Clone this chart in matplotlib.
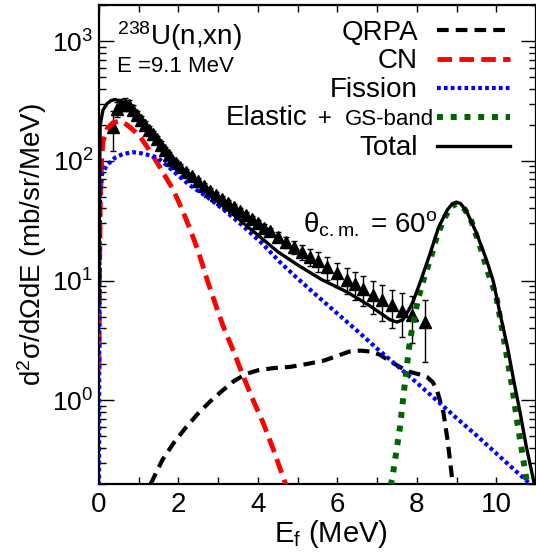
import numpy as np
import matplotlib
matplotlib.use("Agg")
import matplotlib.pyplot as plt

plt.rcParams['font.family'] = ['Liberation Sans', 'DejaVu Sans']
plt.rcParams['mathtext.fontset'] = 'custom'
plt.rcParams['mathtext.rm'] = 'Liberation Sans'
plt.rcParams['mathtext.it'] = 'Liberation Sans:italic'
plt.rcParams['mathtext.default'] = 'regular'

# ---- data (E in MeV, cross section in mb/sr/MeV) ----
total_x = [0.0, 0.01, 0.03, 0.1, 0.2, 0.3, 0.4, 0.55, 0.7, 0.85, 1.0, 1.25, 1.5, 1.86, 2.2, 2.5,
           2.8, 3.12, 3.5, 3.75, 4.1, 4.5, 5.0, 5.6, 6.25, 6.8, 7.1, 7.33, 7.5, 7.65, 7.8, 7.9,
           8.1, 8.34, 8.55, 8.77, 8.9, 9.0, 9.1, 9.25, 9.5, 9.75, 9.92, 10.1, 10.28, 10.45,
           10.6, 10.75, 10.93, 11.0]
total_y = [6.6, 50, 200, 265, 300, 318, 325, 315, 290, 255, 222, 175, 137, 97, 77, 63,
           52, 42, 33, 28, 22.5, 17.4, 13.5, 10.2, 8.0, 6.2, 5.3, 4.7, 4.5, 4.7, 5.7, 6.6,
           10, 17, 28, 39, 44, 45, 44, 38, 25, 15, 10, 5.2, 2.8, 1.4,
           0.79, 0.42, 0.22, 0.17]

cn_x = [0.0, 0.01, 0.03, 0.07, 0.1, 0.2, 0.35, 0.53, 0.7, 0.85, 1.03, 1.25, 1.46, 1.66, 1.86,
        2.08, 2.29, 2.5, 2.72, 2.92, 3.12, 3.38, 3.63, 3.88, 4.13, 4.4, 4.68, 4.85]
cn_y = [1.8, 8, 40, 110, 145, 185, 208, 215, 200, 182, 160, 125, 97, 75, 58,
        40, 27, 17.5, 10.2, 6.5, 4.2, 2.6, 1.59, 1.0, 0.65, 0.38, 0.206, 0.15]

fis_x = [0.0, 0.005, 0.015, 0.03, 0.08, 0.2, 0.4, 0.6, 0.86, 1.1, 1.46, 1.7, 1.96, 2.3, 2.72,
         3.1, 3.55, 4.1, 4.56, 5.0, 5.5, 6.0, 6.5, 7.0, 7.5, 8.0, 8.5, 9.0, 9.5, 10.0, 10.5, 11.0]
fis_y = [0.15, 2, 20, 55, 78, 92, 106, 114, 118, 115, 107, 92, 77, 62, 50,
         40, 30, 20.5, 14.2, 10.4, 7.4, 5.3, 3.8, 2.7, 1.95, 1.4, 1.0, 0.71, 0.51, 0.36, 0.255, 0.18]

qrpa_x = [1.3, 1.6, 1.9, 2.2, 2.5, 2.8, 3.1, 3.4, 3.7, 4.0, 4.4, 4.8, 5.2, 5.65, 6.0, 6.3,
          6.58, 6.85, 7.07, 7.4, 7.76, 8.05, 8.26, 8.4, 8.5, 8.6, 8.67, 8.78, 8.89, 8.95]
qrpa_y = [0.2, 0.32, 0.45, 0.6, 0.78, 0.98, 1.2, 1.45, 1.66, 1.78, 1.86, 1.9, 2.0, 2.14, 2.35, 2.55,
          2.6, 2.55, 2.4, 2.05, 1.75, 1.65, 1.56, 1.42, 1.24, 0.95, 0.79, 0.45, 0.22, 0.15]

el_x = [7.25, 7.38, 7.58, 7.71, 7.83, 8.03, 8.2, 8.34, 8.5, 8.67, 8.85, 9.0, 9.15, 9.35, 9.6,
        9.8, 10.0, 10.25, 10.4, 10.53, 10.65, 10.73, 10.8]
el_y = [0.15, 0.22, 0.61, 1.5, 3.2, 7.0, 11, 15, 23, 32, 41, 44, 42, 33, 19,
        11.5, 7.4, 2.5, 1.3, 0.65, 0.37, 0.25, 0.18]

exp_x = [0.35, 0.45, 0.55, 0.65, 0.75, 0.85, 0.95, 1.05, 1.15, 1.25, 1.35, 1.45, 1.55, 1.65,
         1.75, 1.85, 1.95, 2.05, 2.2, 2.35, 2.5, 2.65, 2.8, 2.95, 3.1, 3.25, 3.4, 3.55, 3.7,
         3.85, 4.0, 4.15, 4.3, 4.5, 4.7, 4.9, 5.1, 5.3, 5.5, 5.75, 6.0, 6.25, 6.45, 6.65, 6.9,
         7.13, 7.38, 7.63, 7.88, 8.2]
exp_y = [190, 270, 295, 300, 290, 265, 240, 220, 200, 182, 166, 151, 136, 123,
         112, 102, 95, 89, 81, 74, 68, 62, 56, 52, 48, 44.5, 41, 38, 35.5,
         32.5, 30, 27.5, 25.7, 23, 21, 19, 17.4, 15.8, 14.5, 12.9, 11.5, 10.2, 9.3, 8.5, 7.6,
         6.9, 6.2, 5.6, 5.2, 4.5]
exp_err = [70, 40, 35, 35, 30, 25, 20, 17, 15, 13, 12, 10, 9, 8,
           7, 6, 6, 5, 5, 4, 4, 3.5, 3, 3, 2.8, 2.6, 2.4, 2.3, 2.2,
           2.1, 2.0, 2.0, 2.0, 2.2, 2.3, 2.4, 2.5, 2.6, 2.7, 2.7, 2.6, 2.5, 2.4, 2.4, 2.3,
           2.3, 2.2, 2.2, 2.2, 2.4]

fig = plt.figure(figsize=(5.36, 5.54), dpi=100)
ax = fig.add_axes([99/536, 70/554, 437/536, 479/554])

qrpa_style = dict(color='black', lw=3, ls=(0, (2.8, 1.7)))
cn_style = dict(color='red', lw=3.5, ls=(0, (3, 1.5)))
fis_style = dict(color='blue', lw=3, ls=(0, (0.9, 0.75)))
el_style = dict(color='#006400', lw=4.3, ls=(0, (1.0, 1.3)))
tot_style = dict(color='black', lw=2.4)

ax.errorbar(exp_x, exp_y, yerr=exp_err, fmt='^', color='black', ms=8, elinewidth=1.0,
            capsize=2.5, capthick=1.0, zorder=3)
ax.plot(qrpa_x, qrpa_y, zorder=4, **qrpa_style)
ax.plot(cn_x, cn_y, zorder=4, **cn_style)
ax.plot(fis_x, fis_y, zorder=4, **fis_style)
ax.plot(el_x, el_y, zorder=4, **el_style)
ax.plot(total_x, total_y, zorder=5, **tot_style)

ax.set_yscale('log')
ax.set_xlim(0, 11)
ax.set_ylim(0.2, 2000)
ax.set_xticks([0, 2, 4, 6, 8, 10])
ax.set_xticks(np.arange(0, 12, 1), minor=True)
ax.tick_params(which='both', direction='in', top=True, right=True, width=1.0)
ax.tick_params(axis='x', which='both', length=5, pad=6, labelsize=20)
ax.tick_params(axis='y', which='major', length=11, pad=4, labelsize=19)
ax.tick_params(axis='y', which='minor', length=5)
for s in ax.spines.values():
    s.set_linewidth(1.6)

ax.set_xlabel('E$_\\mathregular{f}$ (MeV)', fontsize=21, labelpad=0)
ax.xaxis.set_label_coords(0.531, -0.072)
ax.set_ylabel('d$^2$σ/dΩdE (mb/sr/MeV)', fontsize=20, labelpad=2)

ax.text(0.041, 0.916, '$^{238}$U(n,xn)', transform=ax.transAxes, fontsize=20, va='baseline')
ax.text(0.041, 0.860, 'E =9.1 MeV', transform=ax.transAxes, fontsize=16, va='baseline')
ax.text(0.467, 0.526, 'θ$_{c.m.}$ = 60$^{o}$', transform=ax.transAxes, fontsize=20, va='baseline')

# hand-made legend: label on the left, line sample on the right
leg_labels = ['QRPA', 'CN', 'Fission', 'Elastic', 'Total']
leg_styles = [qrpa_style, cn_style, fis_style, el_style, tot_style]
line_y = [0.948, 0.887, 0.827, 0.766, 0.706]
text_y = [0.927, 0.868, 0.808, 0.749, 0.687]
for i in range(5):
    ax.plot([0.773, 0.940], [line_y[i], line_y[i]], transform=ax.transAxes, clip_on=False, **leg_styles[i])
    if leg_labels[i] == 'Elastic':
        ax.text(0.476, text_y[i], 'Elastic', transform=ax.transAxes, fontsize=20, ha='right', va='baseline')
        ax.text(0.5, text_y[i], '+', transform=ax.transAxes, fontsize=17, ha='left', va='baseline')
        ax.text(0.766, text_y[i], 'GS-band', transform=ax.transAxes, fontsize=16, ha='right', va='baseline')
    else:
        ax.text(0.730, text_y[i], leg_labels[i], transform=ax.transAxes, fontsize=20, ha='right', va='baseline')

fig.savefig('out.png', dpi=100)
